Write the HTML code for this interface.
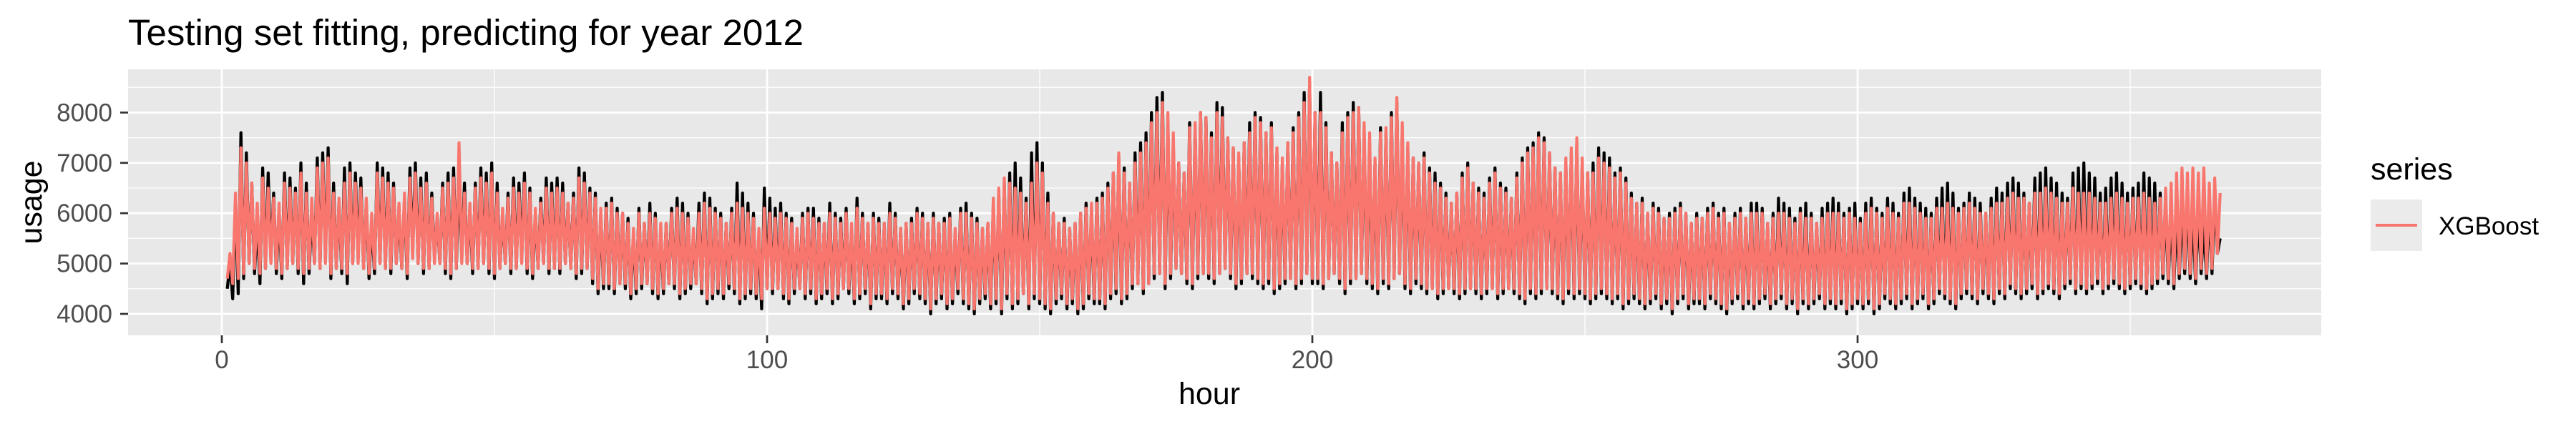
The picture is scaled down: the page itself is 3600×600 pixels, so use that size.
<!DOCTYPE html>
<html><head><meta charset="utf-8"><style>
html,body{margin:0;padding:0;background:#fff;}
svg{display:block;font-family:"Liberation Sans",Arial,sans-serif;}
</style></head><body>
<svg id="chart" width="3600" height="600" viewBox="0 0 3600 600" xmlns="http://www.w3.org/2000/svg">
<text x="179" y="63" font-size="51" fill="#000">Testing set fitting, predicting for year 2012</text>
<rect x="179" y="97" width="3065" height="372" fill="#e8e8e8"/>
<g id="grid"></g>
<g id="series"></g>
<g id="axes"></g>
<text x="1690" y="565" font-size="43" fill="#000" text-anchor="middle">hour</text>
<text transform="translate(58,283) rotate(-90)" font-size="43" fill="#000" text-anchor="middle">usage</text>
<g>
<text x="3313" y="251" font-size="43" fill="#000">series</text>
<rect x="3313" y="279" width="72" height="72" fill="#ebebeb"/>
<line x1="3320" y1="315" x2="3378" y2="315" stroke="#F8766D" stroke-width="4"/>
<text x="3408" y="328" font-size="35" fill="#000">XGBoost</text>
</g>
</svg>
<script>
const xTicks=[0,100,200,300];
const xMinor=[50,150,250,350];
const yTicks=[4000,5000,6000,7000,8000];
const yMinor=[4500,5500,6500,7500,8500];
// daily peak / trough values (hundreds) for actual usage
const actualHi=[50,62,76,72,66,58,69,68,64,60,68,67,65,70,66,60,71,72,73,66,62,69,70,68,67,62,58,70,69,68,66,60,63,69,70,67,68,64,59,66,68,69,67,66,61,66,69,68,70,66,60,64,67,66,68,65,60,63,67,66,67,66,62,64,69,68,65,64,60,62,63,61,60,59,56,61,58,62,60,57,58,61,63,62,60,56,62,64,63,61,60,58,61,66,64,62,60,56,65,63,61,62,60,59,56,60,61,61,59,58,62,60,59,61,57,63,60,58,60,59,58,62,60,57,58,59,61,60,58,60,58,59,60,56,61,62,60,59,57,58,62,64,66,68,70,67,63,72,74,70,64,60,58,59,57,58,60,62,61,63,64,66,68,71,69,66,72,74,76,80,83,84,78,74,70,68,78,77,80,79,76,82,81,75,73,71,74,78,80,79,76,78,72,70,74,77,80,84,86,80,84,78,72,70,78,80,82,81,76,74,70,77,76,80,82,76,73,71,70,72,69,68,66,64,62,64,68,70,66,65,64,67,69,66,65,63,68,71,73,74,76,75,72,69,68,70,72,74,70,68,70,73,72,71,68,69,67,64,62,63,60,62,61,59,60,61,62,60,58,60,59,61,62,60,61,58,60,61,59,62,62,61,58,60,63,62,61,59,61,62,60,58,61,62,63,62,60,61,62,59,62,63,61,60,63,62,60,64,65,63,62,61,60,63,65,66,64,61,62,64,63,62,60,63,65,64,66,67,66,64,62,67,68,69,67,66,64,63,68,69,70,68,67,64,65,67,68,66,64,65,66,68,67,66,64,62,61,60,62,63,60,61,58,62,63,55];
const actualLo=[45,43,44,47,50,48,46,49,51,48,47,49,50,48,46,48,50,49,51,47,49,48,46,50,51,49,47,48,50,49,48,50,49,47,52,50,48,49,51,50,48,47,49,51,50,48,49,50,48,47,49,50,48,49,51,48,47,49,50,48,49,48,50,49,47,48,49,46,44,45,45,44,46,45,43,44,45,46,44,43,44,46,45,43,44,45,46,44,42,43,44,43,45,44,42,43,44,43,41,45,44,45,43,42,44,45,43,44,42,43,44,42,43,45,44,42,43,44,41,43,43,42,44,43,41,42,44,43,42,40,42,43,41,42,44,42,41,40,42,43,41,42,40,43,41,42,44,41,43,42,41,40,42,43,41,42,40,41,43,42,42,41,43,44,42,43,45,46,44,46,47,48,45,47,49,48,46,45,47,48,47,46,48,49,47,45,46,48,47,46,45,46,44,45,46,47,45,46,48,46,46,45,47,48,46,44,46,47,48,46,45,44,46,45,47,48,45,44,46,45,44,45,43,44,45,44,43,44,45,44,43,44,45,43,44,45,44,43,42,44,43,44,45,44,43,42,44,43,44,43,42,43,44,43,42,43,41,42,43,42,41,42,43,41,42,40,42,43,41,42,42,41,43,42,41,40,42,43,41,42,41,42,43,41,42,43,41,42,40,42,41,42,43,41,42,41,42,40,41,42,41,42,40,41,43,42,41,42,43,41,42,43,41,42,44,43,42,41,43,44,43,42,44,43,42,44,43,45,44,43,44,45,43,44,45,44,43,45,46,44,45,44,45,46,44,45,46,45,44,45,46,45,44,45,46,47,46,45,47,48,47,46,48,47,48,52];
// daily peak / trough values (hundreds) for XGBoost predictions
const predHi=[52,64,73,70,66,62,67,65,63,62,66,65,64,68,64,63,69,70,71,64,63,66,68,66,65,63,60,68,67,66,65,62,64,67,68,65,66,63,60,65,66,67,74,64,62,65,67,66,68,64,61,63,65,64,66,64,61,62,65,64,65,64,62,63,67,66,64,63,61,61,62,60,60,58,57,60,58,60,59,58,58,60,61,60,59,57,60,62,61,60,59,58,60,62,61,60,59,57,61,60,59,60,59,58,57,59,60,59,58,58,60,59,58,60,58,61,59,58,59,58,58,60,59,57,58,58,60,59,58,59,58,58,59,57,60,60,59,58,57,58,63,65,67,66,65,64,62,66,70,68,62,60,58,58,57,58,60,61,62,62,63,65,68,72,68,66,70,72,74,78,80,82,80,76,70,68,77,78,80,79,75,80,79,75,73,72,74,76,79,78,76,77,73,71,74,76,79,82,87,80,80,77,72,70,76,79,80,81,78,76,71,76,77,79,83,78,74,71,70,71,68,66,65,63,62,64,67,69,66,64,63,66,68,65,64,63,67,70,72,73,75,74,72,69,68,71,73,75,71,68,68,71,70,69,67,68,66,63,62,62,60,61,60,59,59,60,61,60,58,59,59,60,61,59,60,58,59,60,59,60,60,60,58,59,60,60,59,58,60,59,59,58,59,60,60,60,59,60,59,58,60,61,60,59,61,60,59,62,62,61,60,59,59,61,61,62,61,60,61,62,61,60,60,61,62,62,63,64,63,63,62,64,64,65,64,63,62,62,65,64,64,64,63,62,62,63,64,63,62,63,63,64,63,62,63,65,66,68,69,68,69,68,69,66,67,64];
const predLo=[47,46,47,48,50,49,48,49,50,49,48,49,50,49,48,49,50,49,50,48,49,49,48,50,50,49,48,49,50,49,49,50,49,48,51,50,49,49,50,50,49,48,49,50,50,49,49,50,49,48,49,50,49,49,50,49,48,49,50,49,49,49,50,49,48,49,49,47,45,46,46,45,46,46,44,45,46,46,45,44,45,46,46,44,45,46,46,45,43,44,45,44,46,45,43,44,45,44,43,45,45,45,44,43,45,45,44,45,43,44,45,43,44,45,45,43,44,45,42,44,44,43,45,44,42,43,45,44,43,41,43,44,42,43,45,43,42,41,43,44,42,43,41,44,42,43,44,42,44,43,42,41,43,44,42,43,41,42,44,43,43,42,44,45,43,44,46,46,45,46,48,48,46,48,49,48,47,46,48,48,48,47,48,49,48,46,47,48,48,47,46,47,45,46,47,47,46,47,48,47,47,46,47,48,47,45,47,47,48,47,46,45,47,46,47,48,46,45,47,46,45,45,44,45,45,45,44,45,45,45,44,45,45,44,45,45,45,44,43,45,44,45,45,45,44,43,45,44,45,44,43,44,45,44,43,44,42,43,44,43,42,43,44,42,43,41,43,44,42,43,43,42,44,43,42,41,43,44,42,43,42,43,44,42,43,44,42,43,41,43,42,43,44,42,43,42,43,41,42,43,42,43,41,42,44,43,42,43,44,42,43,44,42,43,45,44,43,42,44,45,44,43,45,44,43,45,44,46,45,44,45,46,44,45,46,45,44,46,47,45,46,45,46,47,45,46,47,46,45,46,47,46,45,46,47,48,47,46,48,49,48,47,49,48,49,52];

const NS='http://www.w3.org/2000/svg';
const PL=179,PR=3244,PT=97,PB=469;
function xs(v){return 310+v*7.62;}
function ys(v){return 439-(v-4000)*0.0704;}
function mk(tag,attrs,parent){const e=document.createElementNS(NS,tag);for(const k in attrs)e.setAttribute(k,attrs[k]);parent.appendChild(e);return e;}
const grid=document.getElementById('grid'),axes=document.getElementById('axes'),ser=document.getElementById('series');
yMinor.forEach(v=>{const l=mk('line',{x1:PL,x2:PR,y1:ys(v),y2:ys(v),stroke:'#fff','stroke-width':1.3},grid);

});
xMinor.forEach(v=>{const l=mk('line',{x1:xs(v),x2:xs(v),y1:PT,y2:PB,stroke:'#fff','stroke-width':1.3},grid);

});
yTicks.forEach(v=>{const l=mk('line',{x1:PL,x2:PR,y1:ys(v),y2:ys(v),stroke:'#fff','stroke-width':2.7},grid);


const t=mk('line',{x1:168,x2:PL,y1:ys(v),y2:ys(v),stroke:'#333','stroke-width':2.7},axes);


const tx=mk('text',{x:157,y:ys(v)+12,'font-size':35,fill:'#4d4d4d','text-anchor':'end'},axes);
tx.textContent=v;

});
xTicks.forEach(v=>{const l=mk('line',{x1:xs(v),x2:xs(v),y1:PT,y2:PB,stroke:'#fff','stroke-width':2.7},grid);


const t=mk('line',{x1:xs(v),x2:xs(v),y1:PB,y2:PB+11,stroke:'#333','stroke-width':2.7},axes);


const tx=mk('text',{x:xs(v),y:515,'font-size':35,fill:'#4d4d4d','text-anchor':'middle'},axes);
tx.textContent=v;

});
function pathOf(hi,lo){let d='';for(let i=0;i<hi.length;i++){const day=i+1;
d+=(i?'L':'M')+xs(day).toFixed(1)+','+ys(lo[i]*100).toFixed(1);
d+='L'+xs(day+0.5).toFixed(1)+','+ys(hi[i]*100).toFixed(1);}return d;}
const pa=mk('path',{d:pathOf(actualHi,actualLo),fill:'none',stroke:'#000','stroke-width':4.2,'stroke-linejoin':'round'},ser);


const pp=mk('path',{d:pathOf(predHi,predLo),fill:'none',stroke:'#F8766D','stroke-width':4.2,'stroke-linejoin':'round'},ser);


</script>
</body></html>
